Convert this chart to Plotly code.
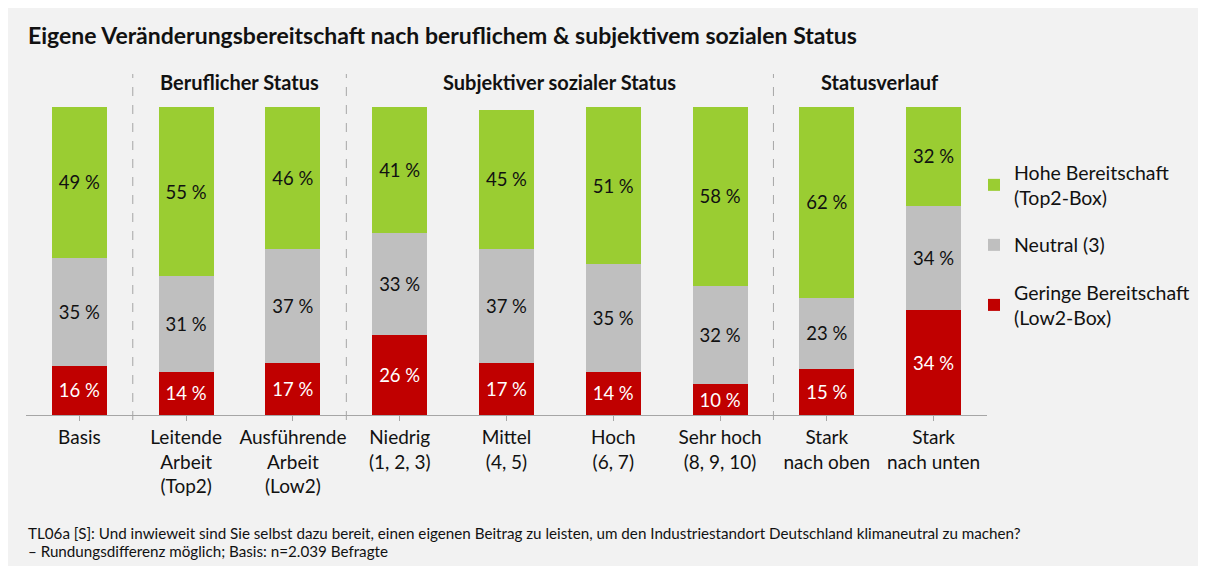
import plotly.graph_objects as go

categories = ["Basis", "Leitende<br>Arbeit<br>(Top2)", "Ausführende<br>Arbeit<br>(Low2)",
              "Niedrig<br>(1, 2, 3)", "Mittel<br>(4, 5)", "Hoch<br>(6, 7)",
              "Sehr hoch<br>(8, 9, 10)", "Stark<br>nach oben", "Stark<br>nach unten"]
low2 = [16, 14, 17, 26, 17, 14, 10, 15, 34]
neutral = [35, 31, 37, 33, 37, 35, 32, 23, 34]
top2 = [49, 55, 46, 41, 45, 51, 58, 62, 32]
series_names = ["Geringe Bereitschaft<br>(Low2-Box)", "Neutral (3)", "Hohe Bereitschaft<br>(Top2-Box)"]
groups = [("Beruflicher Status", 1.5), ("Subjektiver sozialer Status", 4.5), ("Statusverlauf", 7.5)]
separators = [0.5, 2.5, 6.5]
title = "Eigene Veränderungsbereitschaft nach beruflichem & subjektivem sozialen Status"
footnote1 = "TL06a [S]: Und inwieweit sind Sie selbst dazu bereit, einen eigenen Beitrag zu leisten, um den Industriestandort Deutschland klimaneutral zu machen?"
footnote2 = "– Rundungsdifferenz möglich; Basis: n=2.039 Befragte"

# page offset (body margin)
OX, OY = 8, 8
W, H = 1198, 558
# plot area in window pixels
PL, PR, PT, PB = 26, 987, 107, 415
L, R = PL - OX, W - (PR - OX)
T, B = PT - OY, H - (PB - OY)
PW, PH = PR - PL, PB - PT
FONT = "Lato, Noto Sans, sans-serif"


def xp(X):
    return (X - PL) / PW


def yp(Y):
    return (PB - Y) / PH


x = list(range(len(categories)))
fig = go.Figure()
colors = ["#c00000", "#bfbfbf", "#9acd32"]
txtcol = ["white", "#111111", "#111111"]
ranks = [3, 2, 1]
for name, vals, c, tc, rk in zip(series_names, [low2, neutral, top2], colors, txtcol, ranks):
    fig.add_trace(go.Bar(
        x=x, y=vals, name=name, marker=dict(color=c, line=dict(width=0)),
        text=[f"{v} %" for v in vals], textposition="inside", insidetextanchor="middle",
        textfont=dict(color=tc, size=18.5, family=FONT), legendgroup=name, legendrank=rk,
        hoverinfo="skip"))

fig.update_layout(
    width=W, height=H, barmode="stack", bargap=0.485,
    margin=dict(l=L, r=R, t=T, b=B, autoexpand=False),
    paper_bgcolor="#f2f2f2", plot_bgcolor="#f2f2f2",
    font=dict(family=FONT, color="#111111"),
    showlegend=True,
    legend=dict(traceorder="grouped", x=xp(974), y=yp(153), xanchor="left", yanchor="top",
                font=dict(size=19.5, family=FONT, color="#111111"), bgcolor="rgba(0,0,0,0)",
                tracegroupgap=19, itemsizing="constant"),
    uniformtext=dict(minsize=8, mode="show"),
)
fig.update_xaxes(
    tickvals=x, ticktext=categories, range=[-0.5, len(categories) - 0.5],
    showline=True, linecolor="#a6a6a6", linewidth=1, ticks="outside", tickson="boundaries",
    tickcolor="#a6a6a6", ticklen=5, tickfont=dict(size=19, family=FONT, color="#111111"),
    showgrid=False, zeroline=False, fixedrange=True)
fig.update_yaxes(range=[0, 100], visible=False, showgrid=False, zeroline=False, fixedrange=True)

shapes = []
for s in separators:
    shapes.append(dict(type="line", xref="x", yref="paper", x0=s, x1=s, y0=yp(420), y1=yp(74),
                       line=dict(color="#a6a6a6", width=1, dash="dash")))
fig.update_layout(shapes=shapes)

annotations = [
    dict(text=f"<b>{title}</b>", xref="paper", yref="paper", x=xp(26), y=yp(35),
         xanchor="left", yanchor="middle", showarrow=False,
         font=dict(size=23, family=FONT, color="#111111")),
    dict(text=footnote1, xref="paper", yref="paper", x=xp(26), y=yp(533),
         xanchor="left", yanchor="middle", showarrow=False, font=dict(size=15.2, family=FONT, color="#111111")),
    dict(text=footnote2, xref="paper", yref="paper", x=xp(26), y=yp(551),
         xanchor="left", yanchor="middle", showarrow=False, font=dict(size=15.2, family=FONT, color="#111111")),
]
for g, cx in groups:
    annotations.append(dict(text=f"<b>{g}</b>", xref="x", yref="paper", x=cx, y=yp(82),
                            xanchor="center", yanchor="middle", showarrow=False,
                            font=dict(size=20, family=FONT, color="#111111")))
fig.update_layout(annotations=annotations)

fig.write_html("out.html")
